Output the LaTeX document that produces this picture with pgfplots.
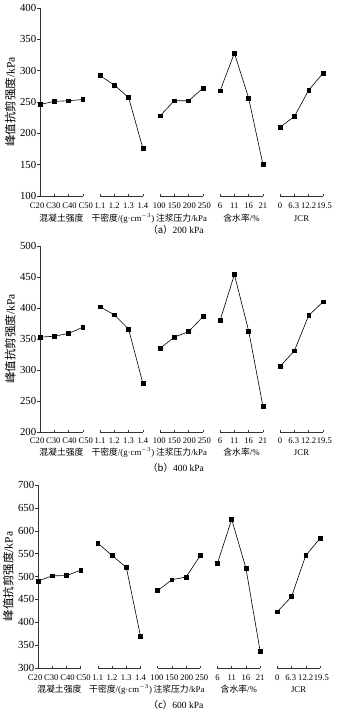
\documentclass[border=0pt]{standalone}
\usepackage{pgfplots}
\pgfplotsset{compat=1.18}
\usepackage{fontspec}
\setmainfont{Liberation Serif}
\newfontfamily\cjk{Noto Sans CJK SC}
\pgfplotsset{
  pt/.style={black, line width=0.6pt, mark=square*, mark size=1.9pt, mark options={solid, fill=black}},
  panel/.style={
    scale only axis, anchor=south west,
    xmin=0, xmax=19.8,
    axis y line=left, axis x line=bottom,
    axis line style={-, line width=0.6pt, black!80},
    x axis line style={draw=none},
    clip=false,
    xtick={0,1,2,3,4.2,5.2,6.2,7.2,8.4,9.4,10.4,11.4,12.6,13.6,14.6,15.6,16.8,17.8,18.8,19.8},
    xticklabels={},
    xtick align=inside, ytick align=outside,
    major tick length=2.5pt,
    tick style={line width=0.5pt, black!80},
    yticklabel style={font=\fontsize{10.8}{11}\selectfont, inner sep=1pt},
    /pgf/number format/assume math mode=true,
    ylabel={{\cjk 峰值抗剪强度}/kPa},
    ylabel style={font=\fontsize{11.5}{12}\selectfont},
  }
}
\newcommand{\groupaxis}[3]{%
  \draw[line width=0.6pt, black!80] (axis cs:0,#1) -- (axis cs:3,#1);
  \draw[line width=0.6pt, black!80] (axis cs:4.2,#1) -- (axis cs:7.2,#1);
  \draw[line width=0.6pt, black!80] (axis cs:8.4,#1) -- (axis cs:11.4,#1);
  \draw[line width=0.6pt, black!80] (axis cs:12.6,#1) -- (axis cs:15.6,#1);
  \draw[line width=0.6pt, black!80] (axis cs:16.8,#1) -- (axis cs:19.8,#1);
  \begin{scope}[every node/.style={font=\fontsize{8.6}{9}\selectfont, anchor=base, inner sep=0pt, yshift=#2}]
  \node at (axis cs:-0.2,#1) {C20};
  \node at (axis cs:0.93,#1) {C30};
  \node at (axis cs:2.07,#1) {C40};
  \node at (axis cs:3.2,#1) {C50};
  \node at (axis cs:4.2,#1) {1.1};
  \node at (axis cs:5.2,#1) {1.2};
  \node at (axis cs:6.2,#1) {1.3};
  \node at (axis cs:7.2,#1) {1.4};
  \node at (axis cs:8.35,#1) {100};
  \node at (axis cs:9.4,#1) {150};
  \node at (axis cs:10.45,#1) {200};
  \node at (axis cs:11.5,#1) {250};
  \node at (axis cs:12.6,#1) {6};
  \node at (axis cs:13.6,#1) {11};
  \node at (axis cs:14.6,#1) {16};
  \node at (axis cs:15.6,#1) {21};
  \node at (axis cs:16.8,#1) {0};
  \node at (axis cs:17.75,#1) {6.3};
  \node at (axis cs:18.8,#1) {12.2};
  \node at (axis cs:19.9,#1) {19.5};
  \end{scope}
  \begin{scope}[every node/.style={font=\fontsize{8.8}{9}\selectfont, anchor=base, inner sep=0pt, yshift=#3}]
  \node at (axis cs:1.5,#1) {\cjk 混凝土强度};
  \node at (axis cs:5.8,#1) {{\cjk 干密度}/(g·cm$^{-3}$)};
  \node at (axis cs:9.9,#1) {{\cjk 注浆压力}/kPa};
  \node at (axis cs:14.1,#1) {{\cjk 含水率}/\%};
  \node at (axis cs:18.3,#1) {JCR};
  \end{scope}
}
\begin{document}
\begin{tikzpicture}
\path[use as bounding box] (0,0) rectangle (352pt,-712pt);
% ---------- (a) 200 kPa
\begin{axis}[panel, at={(40pt,-196pt)}, width=283pt, height=188pt,
  ymin=100, ymax=400, ytick={100,150,...,400}]
\addplot[pt] table {
x y
0 246
1 251
2 252
3 254
};
\addplot[pt] table {
x y
4.2 292
5.2 277
6.2 257
7.2 176
};
\addplot[pt] table {
x y
8.4 228
9.4 252
10.4 252
11.4 272
};
\addplot[pt] table {
x y
12.6 268
13.6 328
14.6 256
15.6 150
};
\addplot[pt] table {
x y
16.8 210
17.8 227
18.8 269
19.8 296
};
\groupaxis{100}{-12pt}{-25pt}
\end{axis}
\node[font=\fontsize{9.5}{10}\selectfont] at (176pt,-230pt) {{\cjk （a）}200 kPa};
% ---------- (b) 400 kPa
\begin{axis}[panel, at={(40pt,-432pt)}, width=283pt, height=186pt,
  ymin=200, ymax=500, ytick={200,250,...,500}]
\addplot[pt] table {
x y
0 353
1 354.5
2 359
3 369
};
\addplot[pt] table {
x y
4.2 402
5.2 389
6.2 366
7.2 278
};
\addplot[pt] table {
x y
8.4 335
9.4 353
10.4 362
11.4 386
};
\addplot[pt] table {
x y
12.6 380
13.6 454
14.6 363
15.6 241
};
\addplot[pt] table {
x y
16.8 306
17.8 331
18.8 388
19.8 410
};
\groupaxis{200}{-11pt}{-23.5pt}
\end{axis}
\node[font=\fontsize{9.5}{10}\selectfont] at (176pt,-468pt) {{\cjk （b）}400 kPa};
% ---------- (c) 600 kPa
\begin{axis}[panel, at={(38pt,-668pt)}, width=282pt, height=183pt,
  ymin=300, ymax=700, ytick={300,350,...,700}]
\addplot[pt] table {
x y
0 490
1 501.5
2 502
3 514
};
\addplot[pt] table {
x y
4.2 573
5.2 546
6.2 520
7.2 369
};
\addplot[pt] table {
x y
8.4 469
9.4 493
10.4 499
11.4 546
};
\addplot[pt] table {
x y
12.6 529
13.6 625
14.6 518
15.6 336
};
\addplot[pt] table {
x y
16.8 423
17.8 456
18.8 546
19.8 583
};
\groupaxis{300}{-12.5pt}{-24.5pt}
\end{axis}
\node[font=\fontsize{9.5}{10}\selectfont] at (176pt,-705pt) {{\cjk （c）}600 kPa};
\end{tikzpicture}
\end{document}
